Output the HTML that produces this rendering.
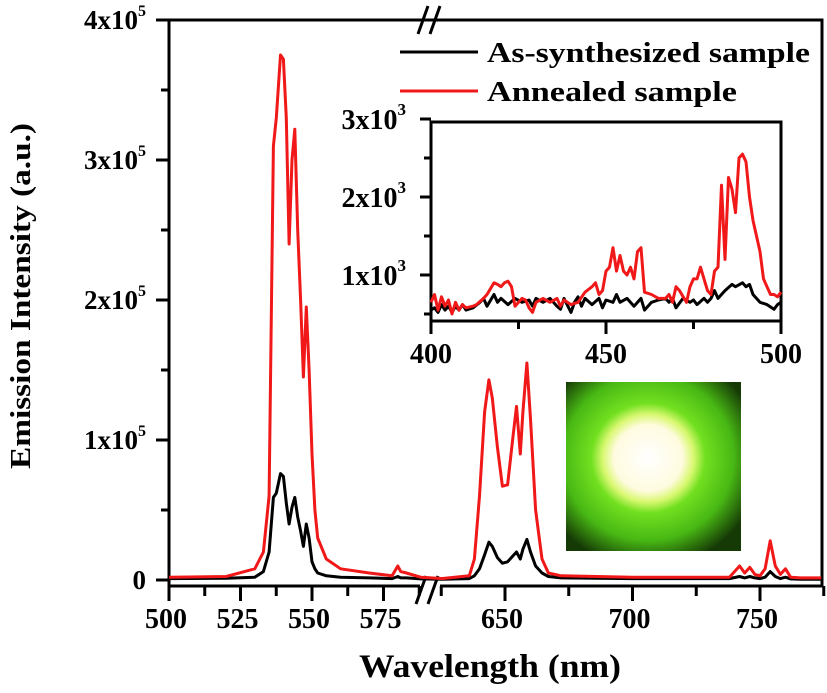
<!DOCTYPE html>
<html><head><meta charset="utf-8"><style>
html,body{margin:0;padding:0;background:#fff;}
svg{display:block;font-family:"Liberation Serif",serif;font-weight:bold;}
</style></head><body>
<svg id="c" width="827" height="693" viewBox="0 0 827 693">
<defs>
<radialGradient id="glow" cx="0.47" cy="0.45" r="0.65">
<stop offset="0" stop-color="#ffffff"/><stop offset="0.3" stop-color="#fffbe0"/><stop offset="0.4" stop-color="#d8f870"/><stop offset="0.5" stop-color="#72e020"/><stop offset="0.75" stop-color="#48b814"/><stop offset="1" stop-color="#163a06"/>
</radialGradient>
</defs>
<g id="main"></g>
<g id="inset"></g>
<rect x="566" y="382" width="175" height="169" fill="url(#glow)"/>
<text transform="translate(30,296) rotate(-90)" text-anchor="middle" font-size="29" textLength="346" lengthAdjust="spacingAndGlyphs">Emission Intensity (a.u.)</text>
<text x="490" y="677" text-anchor="middle" font-size="33" textLength="262" lengthAdjust="spacingAndGlyphs">Wavelength (nm)</text>
<g>
<line x1="400" y1="52" x2="478" y2="52" stroke="#000" stroke-width="3"/>
<text x="487" y="62" font-size="28" textLength="323" lengthAdjust="spacingAndGlyphs">As-synthesized sample</text>
<line x1="400" y1="91" x2="478" y2="91" stroke="#f01818" stroke-width="3"/>
<text x="487" y="101" font-size="28" textLength="250" lengthAdjust="spacingAndGlyphs">Annealed sample</text>
</g>
</svg>
<script>
const mainWl=[500,520,530,533,535,536.5,537.5,539,540,541,542,543,544,545,546,547,548,549,550,551,552,555,560,570,578,580,581,583,588,596,
625,636,638,640,642,643.7,645,647,649,651,653,654.5,656,657,658.6,660,662,664.5,667,672,700,738,742,744,746,748,750,752,754,756,758,760,762,766,774];
const redVals=[2000,2500,8000,20000,60000,310000,330000,375000,372000,330000,240000,300000,322000,250000,200000,145000,195000,150000,90000,50000,30000,15000,8000,5000,3000,10000,6000,5000,2000,1000,
1000,3000,15000,60000,120000,143000,130000,95000,67000,68000,100000,124000,90000,120000,155000,115000,50000,15000,5000,3000,2000,2000,10000,5000,9000,4000,3000,8000,28000,10000,4000,8000,2000,1500,1500];
const blackVals=[1000,1200,2000,6000,20000,59000,62000,76000,74000,55000,40000,52000,59000,45000,35000,24000,40000,30000,13000,8000,5000,3000,2000,1500,1000,2500,1500,1500,800,500,
500,1000,3000,8000,18000,27000,24000,16000,12000,13000,17000,20000,15000,22000,29000,20000,10000,5000,2500,1500,1000,1000,2500,1500,2500,1500,1000,2000,6000,2500,1000,2000,800,600,600];
const yTicks=[0,100000,200000,300000,400000];
const yTickLabels=["0","1x10","2x10","3x10","4x10"];
const xTicks1=[500,525,550,575];
const xTicks2=[650,700,750];
const insetWl=[400,401,402,403,404,405,406,407,408,409,410,412,413,415,416,418,419,420,421,422,423,424,426,427,428,429,430,432,434,436,437,438,440,442,444,446,447,448,449,450,451,452,453,454,455,456,457,458,459,460,461,463,465,467,468,469,470,471,473,474,475,476,477,478,479,480,481,482,483,484,485,486,487,488,489,490,491,492,493,494,495,496,497,498,499,500];
const insetRed=[650,750,550,720,600,680,500,650,550,620,580,600,620,700,750,900,880,850,900,920,850,600,700,680,580,520,650,700,650,700,600,680,620,650,780,850,900,750,800,1050,1100,1350,1050,1250,1050,1000,1100,950,1300,1350,780,750,700,700,750,650,850,800,650,850,950,950,1100,950,800,750,1050,1100,2150,1200,2250,2100,1800,2500,2550,2450,2000,1700,1500,1300,950,850,750,750,720,780];
const insetBlackWl=[400,401,402,403,404,405,406,407,408,409,410,412,414,415,416,418,419,420,422,424,426,428,429,430,432,434,436,437,438,440,441,442,443,444,446,448,449,450,452,453,454,456,458,460,461,463,465,467,468,469,470,472,474,475,476,478,479,480,481,482,484,486,487,489,490,491,492,494,496,498,499,500];
const insetBlack=[550,580,520,620,550,600,520,600,550,620,550,580,650,700,600,750,650,700,620,700,650,680,600,700,650,700,600,560,700,520,650,720,600,700,620,700,580,680,650,750,650,700,600,700,550,650,680,700,650,700,580,700,650,680,620,700,650,700,800,700,800,880,850,900,850,880,750,650,620,560,620,650];
const insetYTicks=[1000,2000,3000];
const insetXTicks=[400,450,500];

const NS="http://www.w3.org/2000/svg";
function mk(tag,attrs,parent){const e=document.createElementNS(NS,tag);for(const k in attrs)e.setAttribute(k,attrs[k]);parent.appendChild(e);return e;}
function xm(w){return w<=600?169+(w-500)*2.86:505+(w-650)*2.55;}
function ym(v){return 580-v*140/100000;}
function xi(w){return 431+(w-400)*3.5;}
function yi(v){return 353-v*78/1000;}
const G=document.getElementById('main'), I=document.getElementById('inset');

let ax=mk('path',{d:'M169,20 H822 V586 H440 M420,586 H169',fill:'none',stroke:'#000','stroke-width':3},G);


let lft=mk('line',{x1:169,y1:20,x2:169,y2:600,stroke:'#000','stroke-width':3},G);


let brk=mk('path',{d:'M416,604 L426,576 M428,604 L438,576 M418,34 L428,6 M430,34 L440,6',stroke:'#000','stroke-width':3,fill:'none'},G);


yTicks.forEach((v,i)=>{
  const y=ym(v);
  const t=mk('line',{x1:156,y1:y,x2:169,y2:y,stroke:'#000','stroke-width':3},G);
  
  
  if(i<yTicks.length-1){const m=mk('line',{x1:161,y1:ym(v+50000),x2:169,y2:ym(v+50000),stroke:'#000','stroke-width':3},G);
  
  }
  const tx=mk('text',{x:146,y:y+9,'text-anchor':'end','font-size':27},G);
  
  
  tx.textContent=yTickLabels[i];
  if(v!==0){const s=mk('tspan',{dy:-13,'font-size':16},tx);s.textContent='5';}
});
function xt(w,major){
  const x=xm(w);
  const t=mk('line',{x1:x,y1:586,x2:x,y2:major?601:596,stroke:'#000','stroke-width':3},G);
  
  
  if(major){const tx=mk('text',{x:x-3,y:628,'text-anchor':'middle','font-size':28},G);
  
  
  tx.textContent=w;}
}
xTicks1.forEach(w=>{xt(w,true);if(w+12.5<596)xt(w+12.5,false);});
xTicks2.forEach(w=>{xt(w,true);xt(w-25,false);});
xt(775,false);

function series(wl,vals,color,name,g,fx,fy,split){
  let d='',pen=false;
  for(let i=0;i<wl.length;i++){
    if(split&&i>0&&wl[i-1]<600&&wl[i]>600)pen=false;
    d+=(pen?'L':'M')+fx(wl[i]).toFixed(1)+','+fy(vals[i]).toFixed(1);pen=true;
  }
  const p=mk('path',{d:d,fill:'none',stroke:color,'stroke-width':3,'stroke-linejoin':'round'},g);
  
  
}
series(mainWl,blackVals,'#000','as-synthesized-line',G,xm,ym,true);
series(mainWl,redVals,'#f01818','annealed-line',G,xm,ym,true);

let ib=mk('path',{d:'M431,122 H781 V321 H431 Z',fill:'none',stroke:'#000','stroke-width':3},I);


insetYTicks.forEach(v=>{
  const y=yi(v);
  const t=mk('line',{x1:420,y1:y,x2:431,y2:y,stroke:'#000','stroke-width':3},I);
  
  
  const m=mk('line',{x1:424,y1:yi(v-500),x2:431,y2:yi(v-500),stroke:'#000','stroke-width':3},I);
  
  
  const tx=mk('text',{x:406,y:y+10,'text-anchor':'end','font-size':28},I);
  
  
  tx.textContent=(v/1000)+'x10';
  const s=mk('tspan',{dy:-14,'font-size':17},tx);s.textContent='3';
});
let mm=mk('line',{x1:424,y1:yi(2500),x2:431,y2:yi(2500),stroke:'#000','stroke-width':3},I);


insetXTicks.forEach(w=>{
  const x=xi(w);
  const t=mk('line',{x1:x,y1:321,x2:x,y2:334,stroke:'#000','stroke-width':3},I);
  
  
  if(w<500){const m=mk('line',{x1:xi(w+25),y1:321,x2:xi(w+25),y2:329,stroke:'#000','stroke-width':3},I);
  
  }
  const tx=mk('text',{x:x,y:363,'text-anchor':'middle','font-size':28},I);
  
  
  tx.textContent=w;
});
series(insetBlackWl,insetBlack,'#000','inset-as-synthesized-line',I,xi,yi,false);
series(insetWl,insetRed,'#f01818','inset-annealed-line',I,xi,yi,false);
</script>
</body></html>
